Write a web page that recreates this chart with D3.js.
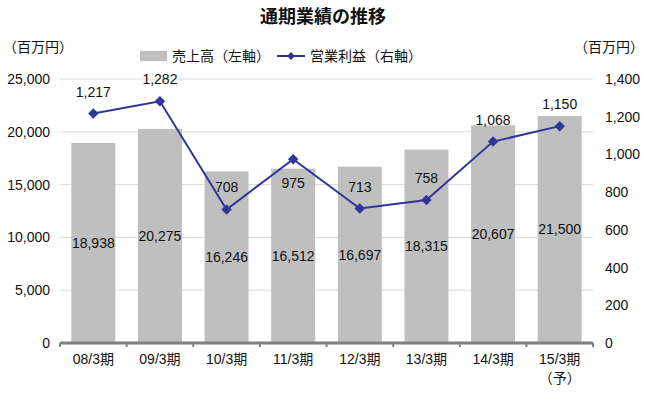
<!DOCTYPE html>
<html>
<head>
<meta charset="utf-8">
<script src="https://cdn.jsdelivr.net/npm/d3@7"></script>
<style>
  body { margin: 0; background: #fff; }
  svg text { font-family: "Liberation Sans", "Noto Sans CJK JP", sans-serif; fill: #111; }
</style>
</head>
<body>
<div id="chart"></div>
<script>
const periods = ['08/3期', '09/3期', '10/3期', '11/3期', '12/3期', '13/3期', '14/3期', '15/3期'];
const sales = [18938, 20275, 16246, 16512, 16697, 18315, 20607, 21500];
const profit = [1217, 1282, 708, 975, 713, 758, 1068, 1150];
const salesTicks = [0, 5000, 10000, 15000, 20000, 25000];
const profitTicks = [0, 200, 400, 600, 800, 1000, 1200, 1400];
// labels below the point instead of above
const profitBelow = [false, false, false, true, false, false, false, false];

const W = 646, H = 394;
const margin = { top: 79, right: 53, bottom: 51, left: 60 };
const width = W - margin.left - margin.right;
const height = H - margin.top - margin.bottom;

const svg = d3.select('#chart').append('svg')
  .attr('width', W).attr('height', H);

const g = svg.append('g')
  .attr('transform', `translate(${margin.left},${margin.top})`);

const x = d3.scaleBand().domain(periods).range([0, width]).paddingInner(0.34).paddingOuter(0.17);
const xc = d3.scaleBand().domain(periods).range([0, width]);
const yL = d3.scaleLinear().domain([0, 25000]).range([height, 0]);
const yR = d3.scaleLinear().domain([0, 1400]).range([height, 0]);
const fmt = d3.format(',');

// gridlines
g.append('g').selectAll('line')
  .data(salesTicks.slice(1))
  .enter().append('line')
  .attr('x1', 0).attr('x2', width)
  .attr('y1', d => yL(d)).attr('y2', d => yL(d))
  .attr('stroke', '#d9d9d9').attr('stroke-width', 1);

// bars
g.selectAll('rect.bar')
  .data(sales)
  .enter().append('rect')
  .attr('class', 'bar')
  .attr('x', (d, i) => x(periods[i]))
  .attr('y', d => yL(d))
  .attr('width', x.bandwidth())
  .attr('height', d => height - yL(d))
  .attr('fill', '#bfbfbf');

// bar labels
g.selectAll('text.sl')
  .data(sales)
  .enter().append('text')
  .attr('x', (d, i) => x(periods[i]) + x.bandwidth() / 2)
  .attr('y', d => yL(d / 2) + 5)
  .attr('text-anchor', 'middle')
  .style('font-size', '14px')
  .text(d => fmt(d));

// bottom axis line + ticks
g.append('line')
  .attr('x1', 0).attr('x2', width)
  .attr('y1', height).attr('y2', height)
  .attr('stroke', '#808080').attr('stroke-width', 3);
g.selectAll('line.tk')
  .data(d3.range(periods.length + 1))
  .enter().append('line')
  .attr('x1', i => i * xc.step()).attr('x2', i => i * xc.step())
  .attr('y1', height).attr('y2', height + 4)
  .attr('stroke', '#808080').attr('stroke-width', 2);

// category labels
g.append('g').selectAll('text')
  .data(periods)
  .enter().append('text')
  .attr('x', d => xc(d) + xc.bandwidth() / 2)
  .attr('y', height + 21)
  .attr('text-anchor', 'middle')
  .style('font-size', '14px')
  .text(d => d);
g.append('text')
  .attr('x', xc(periods[7]) + xc.bandwidth() / 2)
  .attr('y', height + 40)
  .attr('text-anchor', 'middle')
  .style('font-size', '14px')
  .text('（予）');

// left axis
const axL = g.append('g').call(d3.axisLeft(yL).tickValues(salesTicks).tickFormat(fmt).tickSize(0).tickPadding(10));
axL.select('.domain').remove();
axL.selectAll('text').style('font-size', '14px').style('font-family', '"Liberation Sans", sans-serif').attr('fill', '#111');

// right axis
const axR = g.append('g').attr('transform', `translate(${width},0)`)
  .call(d3.axisRight(yR).tickValues(profitTicks).tickFormat(fmt).tickSize(0).tickPadding(12));
axR.select('.domain').remove();
axR.selectAll('text').style('font-size', '14px').style('font-family', '"Liberation Sans", sans-serif').attr('fill', '#111');

// profit line
const line = d3.line()
  .x((d, i) => xc(periods[i]) + xc.bandwidth() / 2)
  .y(d => yR(d));
g.append('path')
  .datum(profit)
  .attr('d', line)
  .attr('fill', 'none')
  .attr('stroke', '#333399')
  .attr('stroke-width', 2);

const diamond = d3.symbol().type(d3.symbolDiamond2).size(70);
g.selectAll('path.mk')
  .data(profit)
  .enter().append('path')
  .attr('d', diamond)
  .attr('transform', (d, i) => `translate(${xc(periods[i]) + xc.bandwidth() / 2},${yR(d)})`)
  .attr('fill', '#333399');

g.selectAll('text.pl')
  .data(profit)
  .enter().append('text')
  .attr('x', (d, i) => xc(periods[i]) + xc.bandwidth() / 2)
  .attr('y', (d, i) => profitBelow[i] ? yR(d) + 29 : yR(d) - 17)
  .attr('text-anchor', 'middle')
  .style('font-size', '14px')
  .text(d => fmt(d));

// title
svg.append('text')
  .attr('x', 323).attr('y', 23)
  .attr('text-anchor', 'middle')
  .style('font-size', '18px').style('font-weight', 'bold')
  .style('font-family', '"Noto Sans CJK JP", sans-serif')
  .text('通期業績の推移');

// unit labels
svg.append('text').attr('x', 3).attr('y', 52)
  .style('font-size', '14px').style('font-family', '"Noto Sans CJK JP", sans-serif')
  .text('（百万円）');
svg.append('text').attr('x', 644).attr('y', 52)
  .attr('text-anchor', 'end')
  .style('font-size', '14px').style('font-family', '"Noto Sans CJK JP", sans-serif')
  .text('（百万円）');

// legend
const lg = svg.append('g');
lg.append('rect').attr('x', 140).attr('y', 51).attr('width', 27).attr('height', 10).attr('fill', '#bfbfbf');
lg.append('text').attr('x', 172).attr('y', 61)
  .style('font-size', '14px').style('font-family', '"Noto Sans CJK JP", sans-serif')
  .text('売上高（左軸）');
lg.append('line').attr('x1', 277).attr('x2', 305).attr('y1', 56).attr('y2', 56)
  .attr('stroke', '#333399').attr('stroke-width', 2);
lg.append('path').attr('d', d3.symbol().type(d3.symbolDiamond2).size(40))
  .attr('transform', 'translate(291,56)').attr('fill', '#333399');
lg.append('text').attr('x', 310).attr('y', 61)
  .style('font-size', '14px').style('font-family', '"Noto Sans CJK JP", sans-serif')
  .text('営業利益（右軸）');
</script>
</body>
</html>
